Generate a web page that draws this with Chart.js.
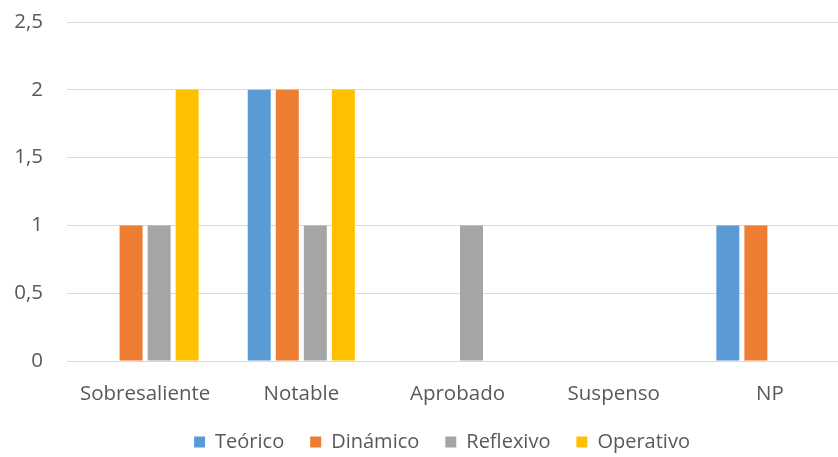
<!DOCTYPE html>
<html>
<head>
<meta charset="utf-8">
<script src="https://cdn.jsdelivr.net/npm/chart.js@4/dist/chart.umd.min.js"></script>
<style>
  html, body { margin: 0; padding: 0; background: #fff; overflow: hidden; }
  #wrap { width: 882px; height: 462px; }
</style>
</head>
<body>
<div id="wrap"><canvas id="chart" width="882" height="462"></canvas></div>
<script>
  // data
  const categories = ["Sobresaliente", "Notable", "Aprobado", "Suspenso", "NP"];
  const teorico   = [0, 2, 0, 0, 1];
  const dinamico  = [1, 2, 0, 0, 1];
  const reflexivo = [1, 1, 1, 0, 0];
  const operativo = [2, 2, 0, 0, 0];
  const yTickLabels = ["0", "0,5", "1", "1,5", "2", "2,5"];

  const textColor = "#595959";
  const gridColor = "#D9D9D9";
  const font = { family: "'Open Sans', sans-serif", size: 20.5 };

  function series(label, data, color) {
    return {
      label: label,
      data: data,
      backgroundColor: color,
      borderWidth: 0,
      categoryPercentage: 0.718,
      barPercentage: 0.82,
    };
  }

  // the plot runs past the right edge of the picture, so nudge the legend
  // back to where it sits in the original
  const shiftLegend = {
    id: "shiftLegend",
    afterLayout(chart) {
      chart.legend.left += 18;
      chart.legend.right += 18;
    },
  };

  new Chart(document.getElementById("chart"), {
    type: "bar",
    data: {
      labels: categories,
      datasets: [
        series("Teórico", teorico, "#5B9BD5"),
        series("Dinámico", dinamico, "#ED7D31"),
        series("Reflexivo", reflexivo, "#A5A5A5"),
        series("Operativo", operativo, "#FFC000"),
      ],
    },
    plugins: [shiftLegend],
    options: {
      responsive: false,
      animation: false,
      devicePixelRatio: 1,
      layout: { padding: { left: 0, right: 34, top: 22, bottom: 0 } },
      plugins: {
        legend: {
          position: "bottom",
          labels: {
            color: textColor,
            font: { family: font.family, size: 20 },
            boxWidth: 11,
            boxHeight: 11,
            padding: 26,
          },
        },
        tooltip: { enabled: false },
      },
      scales: {
        y: {
          min: 0,
          max: 2.5,
          ticks: {
            stepSize: 0.5,
            color: textColor,
            font: font,
            padding: 24,
            callback: (value, i) => yTickLabels[i],
          },
          grid: { color: gridColor, lineWidth: 1, drawTicks: false },
          border: { display: false },
          afterFit: (scale) => {
            scale.width = 67;
            scale.paddingTop = 0;
            scale.paddingBottom = 0;
          },
        },
        x: {
          ticks: { color: textColor, font: font, padding: 21, maxRotation: 0 },
          grid: { display: false, drawTicks: false },
          border: { color: gridColor, width: 1 },
          afterFit: (scale) => {
            scale.height = 45;
            scale.paddingLeft = 0;
            scale.paddingRight = 0;
          },
        },
      },
    },
  });
</script>
</body>
</html>
